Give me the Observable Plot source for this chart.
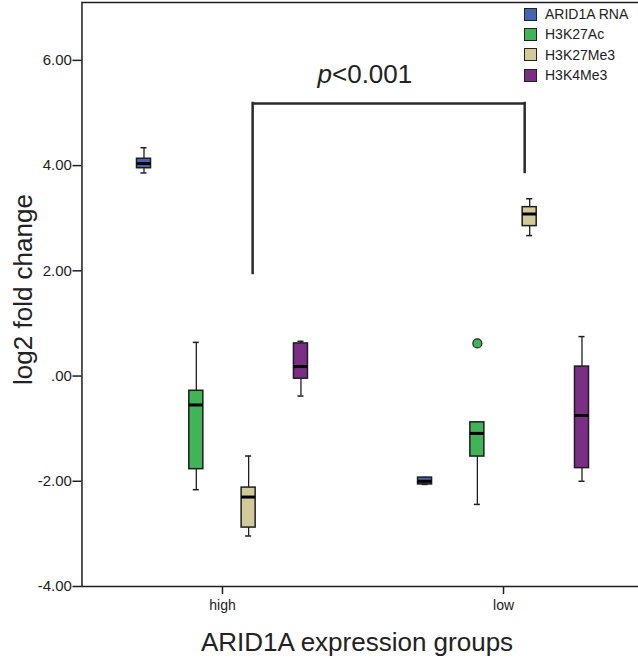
<!DOCTYPE html>
<html><head><meta charset="utf-8">
<script src="https://cdn.jsdelivr.net/npm/d3@7"></script>
<script src="https://cdn.jsdelivr.net/npm/@observablehq/plot@0.6"></script>
<style>
body{margin:0;background:#fff;}
#wrap{position:relative;width:638px;height:666px;font-family:"Liberation Sans",Arial,sans-serif;}
#legend{position:absolute;left:524px;top:4px;}
.row{display:flex;align-items:center;height:20.3px;font-size:14px;color:#222;}
.sw{width:11px;height:11px;border:1px solid #222;margin-right:8px;box-sizing:content-box;}
</style></head><body><div id="wrap"><div id="legend"></div></div>
<script>
// categories
const groups = ["high", "low"];
const series = ["ARID1A RNA", "H3K27Ac", "H3K27Me3", "H3K4Me3"];
const colors = ["#4565b0", "#40b457", "#d3ca9c", "#7c2d86"];
// box statistics per series (order as in `series`)
const minHigh    = [3.86, -2.16, -3.04, -0.38];
const q1High     = [3.95, -1.77, -2.88, -0.05];
const medianHigh = [4.04, -0.55, -2.30,  0.18];
const q3High     = [4.13, -0.28, -2.12,  0.62];
const maxHigh    = [4.34,  0.64, -1.52,  0.66];
const minLow     = [-2.06, -2.44, 2.67, -2.00];
const q1Low      = [-2.06, -1.53, 2.85, -1.75];
const medianLow  = [-2.00, -1.09, 3.08, -0.75];
const q3Low      = [-1.93, -0.88, 3.21,  0.18];
const maxLow     = [-1.93, -0.88, 3.37,  0.75];
// outliers
const outlierGroup = ["low"];
const outlierSeries = ["H3K27Ac"];
const outlierValue = [0.62];
// axis ticks
const yTicks = [-4, -2, 0, 2, 4, 6];
const yTickLabels = ["-4.00", "-2.00", ".00", "2.00", "4.00", "6.00"];
// annotation
const bracketSeries = "H3K27Me3";
const bracketBottom = [1.95, 3.87];
const bracketTop = 5.18;
const pLabel = ["p", "<0.001"];

const stats = {
  high: {min: minHigh, q1: q1High, median: medianHigh, q3: q3High, max: maxHigh},
  low: {min: minLow, q1: q1Low, median: medianLow, q3: q3Low, max: maxLow}
};
const rows = groups.flatMap(g => series.map((s, i) => ({
  group: g, series: s,
  min: stats[g].min[i], q1: stats[g].q1[i], median: stats[g].median[i], q3: stats[g].q3[i], max: stats[g].max[i]
})));
const outliers = outlierValue.map((v, i) => ({group: outlierGroup[i], series: outlierSeries[i], value: v}));
const legHigh = [{group: groups[0], series: bracketSeries, from: bracketSeries, to: series[series.length - 1], bottom: bracketBottom[0], top: bracketTop}];
const legLow = [{group: groups[1], series: bracketSeries, bottom: bracketBottom[1], top: bracketTop}];

const ink = "#1e1e1e";
const bracketInk = "#2a2a2a";
const font = "Liberation Sans, Arial, sans-serif";

const chart = Plot.plot({
  width: 638, height: 666,
  marginLeft: 92, marginRight: 5, marginTop: 2, marginBottom: 80,
  style: {fontFamily: font, color: "#222", background: "white", overflow: "visible"},
  fx: {domain: groups, paddingInner: 0, paddingOuter: -0.0375, round: false},
  x: {domain: series, paddingInner: 0.732, paddingOuter: 1.052, round: false, axis: null},
  y: {domain: [-4, 7.1]},
  color: {domain: series, range: colors},
  marks: [
    Plot.frame({facet: "super", stroke: ink, strokeWidth: 1.5}),
    Plot.axisY({ticks: yTicks, tickFormat: d => yTickLabels[yTicks.indexOf(d)], tickSize: 9, tickPadding: 1, fontSize: 15, label: null, stroke: ink, strokeWidth: 1.5}),
    Plot.axisFx({anchor: "bottom", tickSize: 8, tickPadding: 6, fontSize: 14, label: null, stroke: ink, strokeWidth: 1.5}),
    // whiskers
    Plot.ruleX(rows, {fx: "group", x: "series", y1: "min", y2: "max", stroke: ink, strokeWidth: 1.3}),
    Plot.tickY(rows, {fx: "group", x: "series", y: "min", insetLeft: 4, insetRight: 4, stroke: ink, strokeWidth: 1.5}),
    Plot.tickY(rows, {fx: "group", x: "series", y: "max", insetLeft: 4, insetRight: 4, stroke: ink, strokeWidth: 1.5}),
    // boxes
    Plot.barY(rows, {fx: "group", x: "series", y1: "q1", y2: "q3", fill: "series", stroke: ink, strokeWidth: 1.5}),
    Plot.tickY(rows, {fx: "group", x: "series", y: "median", stroke: "#000", strokeWidth: 3}),
    Plot.dot(outliers, {fx: "group", x: "series", y: "value", r: 4.5, fill: "series", stroke: ink, strokeWidth: 1.2}),
    // significance bracket
    Plot.ruleX(legHigh, {fx: "group", x: "series", y1: "bottom", y2: "top", dx: 4, stroke: bracketInk, strokeWidth: 2.5, strokeLinecap: "square"}),
    Plot.ruleX(legLow, {fx: "group", x: "series", y1: "bottom", y2: "top", dx: -5, stroke: bracketInk, strokeWidth: 2.5, strokeLinecap: "square"}),
    Plot.ruleY(legHigh, {fx: "group", y: "top", x1: "from", x2: "to", insetLeft: 11, insetRight: -217.5, stroke: bracketInk, strokeWidth: 2.5}),
    Plot.text([pLabel[0]], {facet: "super", frameAnchor: "top", textAnchor: "end", lineAnchor: "middle", dx: -31, dy: 72, fontSize: 26, fontStyle: "italic", fill: "#222"}),
    Plot.text([pLabel[1]], {facet: "super", frameAnchor: "top", textAnchor: "start", lineAnchor: "middle", dx: -31, dy: 72, fontSize: 26, fill: "#222"}),
    // axis titles
    Plot.text(["log2 fold change"], {facet: "super", frameAnchor: "left", rotate: -90, textAnchor: "middle", lineAnchor: "middle", dx: -58, dy: -5, fontSize: 26, fill: "#222"}),
    Plot.text(["ARID1A expression groups"], {facet: "super", frameAnchor: "bottom", textAnchor: "middle", lineAnchor: "middle", dx: -6, dy: 56, fontSize: 26, fill: "#222"})
  ]
});
const wrap = document.getElementById("wrap");
wrap.insertBefore(chart, wrap.firstChild);

const legend = d3.select("#legend");
series.forEach((s, i) => {
  const row = legend.append("div").attr("class", "row");
  row.append("div").attr("class", "sw").style("background", colors[i]);
  row.append("span").text(s);
});
</script>
</body></html>
